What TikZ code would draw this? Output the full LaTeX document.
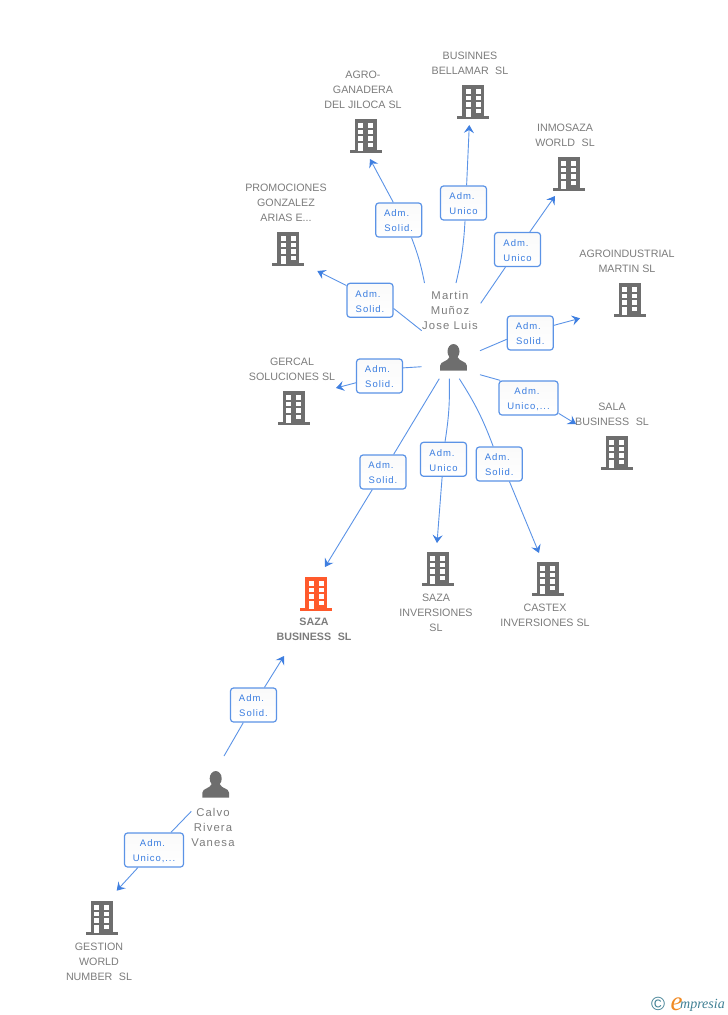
\documentclass[tikz,border=0pt]{standalone}
\usepackage{fontspec}
\usepackage{xcolor}
\setmainfont{Liberation Sans}
\newfontfamily\rolefont[LetterSpace=10]{Liberation Sans}
\newfontfamily\logofont{Liberation Serif}
\usetikzlibrary{arrows.meta}

\definecolor{iconGrey}{HTML}{6E6E6E}
\definecolor{iconOrange}{HTML}{FF5A2C}
\definecolor{captionGrey}{HTML}{7C7C7C}
\definecolor{linkBlue}{HTML}{5B93E6}
\definecolor{tipBlue}{HTML}{3F7FE0}
\definecolor{roleBlue}{HTML}{3A7DE0}
\definecolor{logoTeal}{HTML}{3F7F93}
\definecolor{logoOrange}{HTML}{F08A24}

\newcommand{\admsolid}{\rule{0pt}{9pt}Adm.\kern4pt\\Solid.}
\newcommand{\admunico}{\rule{0pt}{9pt}Adm.\kern3pt\\Unico}
\newcommand{\admmore}{\rule{0pt}{9pt}Adm.\kern3pt\\Unico,...}
\newcommand{\gap}{\kern6.5pt}

\tikzset{
  caption/.style={inner sep=0pt, align=center, text=captionGrey, font=\fontsize{10.7}{15}\selectfont},
  namecaption/.style={caption, font=\rolefont\fontsize{11.3}{15}\selectfont},
  rolebox/.style={draw=linkBlue, line width=1.2pt, rounded corners=3pt, top color=black!2, bottom color=white,
    inner sep=0pt, minimum width=46pt, minimum height=34pt, align=center,
    text=roleBlue, font=\rolefont\fontsize{9.5}{15}\selectfont},
  link/.style={draw=linkBlue, line width=0.9pt},
  linktip/.style={link, -{Stealth[length=8pt, width=10pt, inset=3pt, color=tipBlue]}},
  pics/building/.style={code={
    \fill[#1] (-11,0) rectangle (11,32);
    \fill[#1] (-16,31) rectangle (16,34);
    \foreach \wy in {4,10.5,17} {
      \fill[white] (-7.7,\wy) rectangle (-2.7,\wy+4.5);
      \fill[white] (2.3,\wy) rectangle (7.3,\wy+4.5);
    }
    \fill[white] (-7.7,23.5) rectangle (-2.7,32);
    \fill[white] (2.3,23.5) rectangle (7.3,28);
  }},
  pics/person/.style={code={
    \fill[iconGrey] (0,7.5) ellipse (6 and 7.5);
    \fill[iconGrey] (-13.3,26.7) -- (-13.3,21.5) .. controls (-13,17) and (-6,18) .. (-4,13)
      -- (4,13) .. controls (6,18) and (13,17) .. (13.3,21.5) -- (13.3,26.7) -- cycle;
  }}
}

\begin{document}
\begin{tikzpicture}[x=1pt, y=-1pt]
  \useasboundingbox (0,0) rectangle (728,1015);

  % Draw the company and person icons
  \foreach \bx/\by in {473.3/85, 366/119, 288.3/232, 569/157, 630/283, 616.5/436, 294/391, 438/552, 548/562, 102/901}
    \pic at (\bx,\by) {building=iconGrey};
  \pic at (316.3,577) {building=iconOrange};
  \pic at (453.5,344) {person};
  \pic at (215.7,771) {person};

  % Captions
  \node[caption] (businnes) at (470,63.5) {BUSINNES\\BELLAMAR\gap SL};
  \node[caption] (agro) at (363,90) {AGRO-\\GANADERA\\DEL JILOCA SL};
  \node[caption] (promociones) at (286,203) {PROMOCIONES\\GONZALEZ\\ARIAS E...};
  \node[caption] (inmosaza) at (565,135.5) {INMOSAZA\\WORLD\gap SL};
  \node[caption] (agroindustrial) at (627,261.5) {AGROINDUSTRIAL\\MARTIN SL};
  \node[caption] (sala) at (612,414.5) {SALA\\BUSINESS\gap SL};
  \node[caption] (gercal) at (292,369.5) {GERCAL\\SOLUCIONES SL};
  \node[caption, font=\fontsize{10.7}{15}\selectfont\bfseries] (sazabusiness) at (314,629.5) {SAZA\\BUSINESS\gap SL};
  \node[caption] (sazainv) at (436,613) {SAZA\\INVERSIONES\\SL};
  \node[caption] (castex) at (545,615.5) {CASTEX\\INVERSIONES SL};
  \node[caption] (gestion) at (99,962) {GESTION\\WORLD\\NUMBER\gap SL};
  \node[namecaption] (martin) at (450,310) {Martin\\Muñoz\\Jose Luis};
  \node[namecaption] (calvo) at (213,827) {Calvo\\Rivera\\Vanesa};

  % Free ends of the connectors
  \coordinate (sAgro) at (424.5,283);
  \coordinate (tAgro) at (370,159);
  \coordinate (sBusinnes) at (456,283);
  \coordinate (tBusinnes) at (469.3,125);
  \coordinate (sInmosaza) at (480.7,303.3);
  \coordinate (tInmosaza) at (555,196);
  \coordinate (sPromociones) at (421.7,330.7);
  \coordinate (tPromociones) at (317.3,271);
  \coordinate (sAgroind) at (480,350.7);
  \coordinate (tAgroind) at (580,318.3);
  \coordinate (sSala) at (480,374.7);
  \coordinate (tSala) at (576,424);
  \coordinate (sGercal) at (421.7,366.7);
  \coordinate (tGercal) at (336,388);
  \coordinate (sBusiness) at (439.3,378.7);
  \coordinate (tBusiness) at (325,567);
  \coordinate (sInv) at (449.3,378.7);
  \coordinate (tInv) at (437,543);
  \coordinate (sCastex) at (459.3,378.7);
  \coordinate (tCastex) at (539,553);
  \coordinate (sCalvo) at (224,756);
  \coordinate (tCalvo) at (284,656);
  \coordinate (sGestion) at (191.3,811.3);
  \coordinate (tGestion) at (116.7,890.7);

  % Role boxes
  \node[rolebox] (roleAgro) at (398.7,220) {\admsolid};
  \node[rolebox] (roleBusinnes) at (463.5,203) {\admunico};
  \node[rolebox] (roleInmosaza) at (517.5,249.5) {\admunico};
  \node[rolebox] (rolePromociones) at (370,300.3) {\admsolid};
  \node[rolebox] (roleAgroind) at (530.3,333) {\admsolid};
  \node[rolebox, minimum width=59pt] (roleSala) at (528.5,398) {\admmore};
  \node[rolebox] (roleGercal) at (379.5,376) {\admsolid};
  \node[rolebox] (roleBusiness) at (383,472) {\admsolid};
  \node[rolebox] (roleInv) at (443.5,459.3) {\admunico};
  \node[rolebox] (roleCastex) at (499.3,464) {\admsolid};
  \node[rolebox] (roleCalvo) at (253.5,705) {\admsolid};
  \node[rolebox, minimum width=59pt] (roleGestion) at (154,850) {\admmore};

  % Connectors
  \draw[link] (sAgro) to[bend right=5] (roleAgro.-54);
  \draw[linktip] (roleAgro.107) -- (tAgro);
  \draw[link] (sBusinnes) to[bend right=5] (roleBusinnes.-85);
  \draw[linktip] (roleBusinnes.80) -- (tBusinnes);
  \draw[link] (sInmosaza) -- (roleInmosaza);
  \draw[linktip] (roleInmosaza) -- (tInmosaza);
  \draw[link] (sPromociones) -- (rolePromociones.-19);
  \draw[linktip] (rolePromociones.148) -- (tPromociones);
  \draw[link] (sAgroind) -- (roleAgroind.195);
  \draw[linktip] (roleAgroind.18) -- (tAgroind);
  \draw[link] (sSala) -- (roleSala.148);
  \draw[linktip] (roleSala.-27) -- (tSala);
  \draw[link] (sGercal) -- (roleGercal.19);
  \draw[linktip] (roleGercal.196) -- (tGercal);
  \draw[link] (sBusiness) -- (roleBusiness);
  \draw[linktip] (roleBusiness) -- (tBusiness);
  \draw[link] (sInv) to[bend left=5] (roleInv.85);
  \draw[linktip] (roleInv) -- (tInv);
  \draw[link] (sCastex) to[bend left=6] (roleCastex);
  \draw[linktip] (roleCastex.-60) -- (tCastex);
  \draw[link] (sCalvo) -- (roleCalvo);
  \draw[linktip] (roleCalvo) -- (tCalvo);
  \draw[link] (sGestion) -- (roleGestion);
  \draw[linktip] (roleGestion) -- (tGestion);

  % Logo
  \node[inner sep=0pt, text=logoTeal, font=\fontsize{19}{19}\selectfont] (logoMark) at (658,1003.5) {©};
  \node[inner sep=0pt, anchor=base, text=logoOrange, font=\logofont\fontsize{27}{27}\selectfont\itshape] (logoE) at (676.5,1010) {e};
  \node[inner sep=0pt, anchor=base west, text=logoTeal, font=\logofont\fontsize{14}{14}\selectfont\itshape] (logoName) at (680,1008) {mpresia};
\end{tikzpicture}
\end{document}
